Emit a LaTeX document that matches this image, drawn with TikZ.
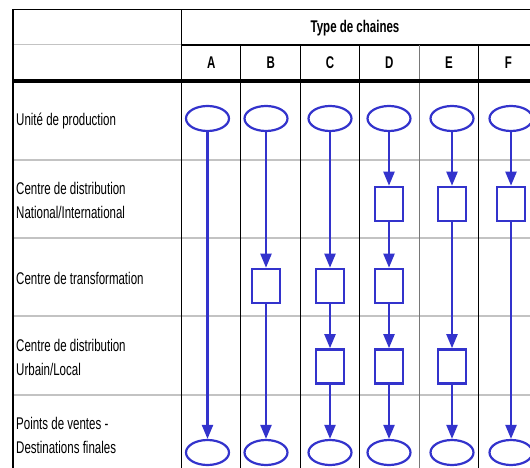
\documentclass[tikz,border=0pt]{standalone}
\usepackage{fontspec}
\setmainfont{Liberation Sans}[FakeStretch=0.68]
\usetikzlibrary{shapes.geometric,arrows.meta}
\definecolor{flowblue}{RGB}{51,51,204}
\definecolor{rulegray}{RGB}{195,195,195}
\definecolor{midgray}{RGB}{120,120,120}

\begin{document}
\begin{tikzpicture}[x=1bp,y=-1bp,
  station/.style={ellipse,draw=flowblue,line width=2.2bp,minimum width=43bp,
    minimum height=25bp,inner sep=0pt,fill=white},
  depot/.style={rectangle,draw=flowblue,line width=2.6bp,minimum width=28bp,
    minimum height=34bp,inner sep=0pt,fill=white},
  flow/.style={draw=flowblue,line width=2.2bp,-{Triangle[length=14bp,width=11bp]}},
  rowlabel/.style={anchor=west,align=left,inner sep=0pt,
    font=\fontsize{17}{24}\selectfont},
  colhead/.style={inner sep=0pt,font=\fontsize{17}{20}\selectfont\bfseries},
  rowrule/.style={draw=rulegray,line width=2bp},
  colrule/.style={draw=black,line width=1.3bp},
]
\useasboundingbox (0,0) rectangle (530,468);

% --- table grid ---
\foreach \y in {160,237.7,315.7,395}
  \path[rowrule] (13,\y) -- (530,\y);
\draw[draw=rulegray,line width=1bp] (13,45) -- (181.7,45);
\draw[black,line width=1.3bp] (181.7,45) -- (530,45);
\draw[black,line width=1.8bp] (13,9.5) -- (530,9.5);
\draw[black,line width=1.8bp] (13,9.5) -- (13,468);
\draw[colrule] (181.7,9.5) -- (181.7,468);
\foreach \x in {240.7,300.7,359.3,478.7}
  \path[colrule] (\x,45) -- (\x,468);
\draw[midgray,line width=1.3bp] (419.3,45) -- (419.3,468);
\draw[black,line width=3.5bp] (13,81) -- (530,81);

% --- headings ---
\node[colhead] (title) at (355,28) {Type de chaines};
\node[colhead] (hA) at (211.2,63) {A};
\node[colhead] (hB) at (270.7,63) {B};
\node[colhead] (hC) at (330,63) {C};
\node[colhead] (hD) at (389.3,63) {D};
\node[colhead] (hE) at (449,63) {E};
\node[colhead] (hF) at (508.5,63) {F};

% --- row labels ---
\node[rowlabel] (lab1) at (16,121.5) {Unité de production};
\node[rowlabel] (lab2) at (16,200) {Centre de distribution\\National/International};
\node[rowlabel] (lab3) at (16,278) {Centre de transformation};
\node[rowlabel] (lab4) at (16,357) {Centre de distribution\\Urbain/Local};
\node[rowlabel] (lab5) at (16,435) {Points de ventes -\\Destinations finales};

% --- production units and final destinations ---
\foreach \c/\x in {A/207.5,B/266,C/330,D/389,E/452,F/511}{
  \node[station] (top\c) at (\x,118.5) {};
  \node[station] (bot\c) at (\x,452.5) {};
}

% --- intermediate centres ---
\node[depot] (natD) at (389,204) {};
\node[depot] (natE) at (452,204) {};
\node[depot] (natF) at (511,204) {};
\node[depot] (trB) at (266,286) {};
\node[depot] (trC) at (330,286) {};
\node[depot] (trD) at (389,286) {};
\node[depot] (urbC) at (330,366.5) {};
\node[depot] (urbD) at (389,366.5) {};
\node[depot] (urbE) at (452,366.5) {};

% --- chains ---
\draw[flow] (topA) -- (botA);

\draw[flow] (topB) -- (trB);
\draw[flow] (trB) -- (botB);

\draw[flow] (topC) -- (trC);
\draw[flow] (trC) -- (urbC);
\draw[flow] (urbC) -- (botC);

\draw[flow] (topD) -- (natD);
\draw[flow] (natD) -- (trD);
\draw[flow] (trD) -- (urbD);
\draw[flow] (urbD) -- (botD);

\draw[flow] (topE) -- (natE);
\draw[flow] (natE) -- (urbE);
\draw[flow] (urbE) -- (botE);

\draw[flow] (topF) -- (natF);
\draw[flow] (natF) -- (botF);
\end{tikzpicture}
\end{document}
